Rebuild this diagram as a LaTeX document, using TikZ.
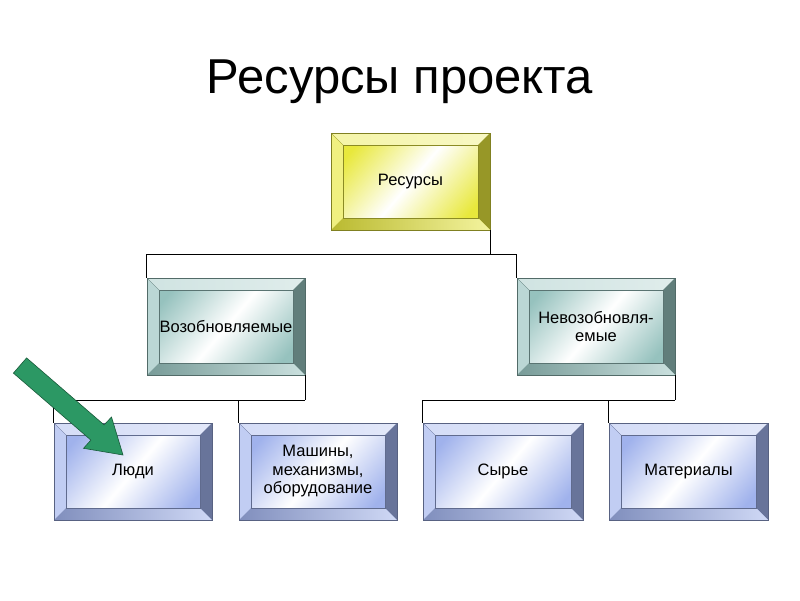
\documentclass[tikz,border=0pt]{standalone}
\usepackage{fontspec}
\setmainfont{Liberation Sans}
\usetikzlibrary{calc}
\definecolor{cy}{RGB}{232,232,60}
\definecolor{ct}{RGB}{150,194,190}
\definecolor{cb}{RGB}{160,178,236}
\definecolor{agreen}{RGB}{44,152,100}
\definecolor{agreendk}{RGB}{25,90,58}
\tikzset{
  bevelbox/.style={
    minimum width=158pt, minimum height=97pt, inner sep=2pt, align=center,
    font=\fontsize{16.5}{18.5}\selectfont,
    draw=#1!55!black, line width=0.5pt,
    path picture={
      \coordinate (pp-sw) at (path picture bounding box.south west);
      \coordinate (pp-se) at (path picture bounding box.south east);
      \coordinate (pp-nw) at (path picture bounding box.north west);
      \coordinate (pp-ne) at (path picture bounding box.north east);
      \shade[left color=#1, right color=#1, middle color=white, shading angle=50]
        (pp-sw) rectangle (pp-ne);
      \shade[left color=#1!45!white, right color=#1!30!white]
        (pp-nw) -- (pp-ne) -- ([xshift=-12pt,yshift=-12pt]pp-ne)
        -- ([xshift=12pt,yshift=-12pt]pp-nw) -- cycle;
      \fill[#1!65!white] (pp-nw) -- ([xshift=12pt,yshift=-12pt]pp-nw)
        -- ([xshift=12pt,yshift=12pt]pp-sw) -- (pp-sw) -- cycle;
      \fill[#1!65!black] (pp-ne) -- (pp-se) -- ([xshift=-12pt,yshift=12pt]pp-se)
        -- ([xshift=-12pt,yshift=-12pt]pp-ne) -- cycle;
      \shade[left color=#1!80!black, right color=#1!50!white]
        (pp-sw) -- (pp-se) -- ([xshift=-12pt,yshift=12pt]pp-se)
        -- ([xshift=12pt,yshift=12pt]pp-sw) -- cycle;
      \draw[#1!60!black, line width=0.3pt]
        ([xshift=12pt,yshift=12pt]pp-sw) rectangle ([xshift=-12pt,yshift=-12pt]pp-ne);
      \draw[#1!60!black, line width=0.3pt]
        (pp-nw) -- ([xshift=12pt,yshift=-12pt]pp-nw);
    }
  },
  conn/.style={draw=black, line width=0.8pt},
  title/.style={font=\fontsize{49}{52}\selectfont}
}
\begin{document}
\begin{tikzpicture}[x=1pt,y=-1pt]
\useasboundingbox (0,0) rectangle (800,600);
\node[title] (ttl) at (400,82) {Ресурсы проекта};
\node[bevelbox=cy, minimum width=159pt] (top) at (410.5,181.5) {Ресурсы};
\node[bevelbox=ct] (ren) at (226,326.5) {Возобновляемые};
\node[bevelbox=ct] (non) at (596,326.5) {Невозобновля-\\емые};
\node[bevelbox=cb] (ppl) at (133,471.5) {Люди};
\node[bevelbox=cb] (mch) at (318,471.5) {Машины,\\механизмы,\\оборудование};
\node[bevelbox=cb, minimum width=160pt] (raw) at (503,471.5) {Сырье};
\node[bevelbox=cb, minimum width=159pt] (mat) at (688.5,471.5) {Материалы};
% connectors
\draw[conn] (top.south east) -- ++(0,24) coordinate (j1);
\draw[conn] (ren.north west) |- (j1);
\draw[conn] (non.north west) |- (j1);
\draw[conn] (ren.south east) -- ++(0,25) coordinate (j2);
\draw[conn] (ppl.north west) |- (j2);
\draw[conn] (mch.north west) |- (j2);
\draw[conn] (non.south east) -- ++(0,25) coordinate (j3);
\draw[conn] (raw.north west) |- (j3);
\draw[conn] (mat.north west) |- (j3);
% green arrow
\filldraw[fill=agreen, draw=agreendk, line width=0.6pt, line join=miter]
  (26.6,357.9) -- (104.1,424.9) -- (111.5,417) -- (123,455) -- (83.5,448.3)
  -- (90.9,440.1) -- (13.4,373.1) -- cycle;
\end{tikzpicture}
\end{document}
